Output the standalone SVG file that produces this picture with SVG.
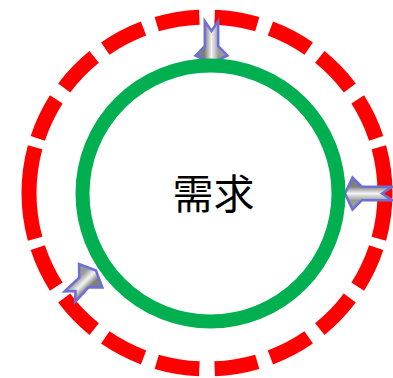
<svg xmlns="http://www.w3.org/2000/svg" width="393" height="378" viewBox="0 0 393 378">
  <defs>
    <linearGradient id="shaft" gradientUnits="userSpaceOnUse" x1="0" y1="-7" x2="0" y2="7">
      <stop offset="0" stop-color="#9a9a9a"/>
      <stop offset="0.5" stop-color="#f4f4f4"/>
      <stop offset="1" stop-color="#7e7e7e"/>
    </linearGradient>
  </defs>
  <style>
    .dashed { fill: none; stroke: #FF0000; stroke-width: 15; stroke-dasharray: 14 4.5 14 4.5 14 4.5 14 3 30 3 14 4.5 14 4.5 14 4.5 14 5; stroke-dashoffset: -2.5; }
    .core { fill: none; stroke: #00B050; stroke-width: 14; }
    .arrow { fill: url(#shaft); stroke: #6E6ED4; stroke-width: 2.5; stroke-linejoin: miter; }
    .label { font-family: "Noto Sans CJK SC", "Noto Sans CJK TC", sans-serif; font-size: 41px; fill: #000000; text-anchor: middle; }
  </style>
  <rect width="393" height="378" fill="#FFFFFF"/>
  <g id="outer-ring">
    <path class="dashed" pathLength="360" d="M207,17 A178,176 0 1 1 207,369 A178,176 0 1 1 207,17"/>
  </g>
  <g id="connectors">
    <path class="arrow" transform="translate(211.5,63) rotate(90)" d="M0,0 L-7.5,-16 L-17,-6.7 L-42,-6.7 L-32,0 L-42,6.7 L-17,6.7 L-7.5,16 Z"/>
    <path class="arrow" transform="translate(345,193.5) rotate(180)" d="M0,0 L-7.5,-16 L-17,-6.7 L-47,-6.7 L-37,0 L-47,6.7 L-17,6.7 L-7.5,16 Z"/>
    <path class="arrow" transform="translate(96,270.5) rotate(-45)" d="M0,0 L-7.5,-16.5 L-17,-6.7 L-37,-7.5 L-29,0 L-37,7.5 L-17,6.7 L-7.5,16.5 Z"/>
  </g>
  <g id="demand">
    <circle class="core" cx="210.5" cy="193.5" r="128"/>
    <text class="label" x="213.5" y="209">需求</text>
  </g>
</svg>
